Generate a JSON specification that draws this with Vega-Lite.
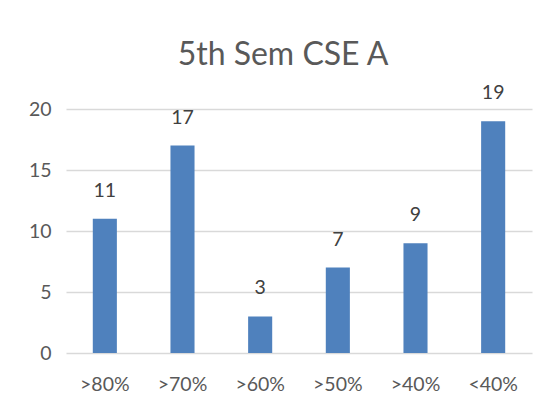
{
  "$schema": "https://vega.github.io/schema/vega-lite/v6.json",
  "width": 466,
  "height": 244,
  "autosize": "none",
  "padding": {"left": 66, "top": 109, "right": 19, "bottom": 63},
  "background": "white",
  "title": {
    "text": "5th Sem CSE A",
    "font": "Lato",
    "fontSize": 32,
    "fontWeight": "normal",
    "color": "#595959",
    "anchor": "middle",
    "dx": -16,
    "offset": 11
  },
  "config": {
    "view": {"stroke": null},
    "font": "Lato"
  },
  "data": {
    "values": [
      {"range": ">80%", "count": 11},
      {"range": ">70%", "count": 17},
      {"range": ">60%", "count": 3},
      {"range": ">50%", "count": 7},
      {"range": ">40%", "count": 9},
      {"range": "<40%", "count": 19}
    ]
  },
  "encoding": {
    "x": {
      "field": "range",
      "type": "nominal",
      "sort": null,
      "scale": {"paddingInner": 0.69, "paddingOuter": 0.345},
      "axis": {
        "title": null,
        "labelAngle": 0,
        "ticks": false,
        "domain": false,
        "labelPadding": 22,
        "labelFont": "Lato",
        "labelFontSize": 19.5,
        "labelColor": "#595959"
      }
    },
    "y": {
      "field": "count",
      "type": "quantitative",
      "scale": {"domain": [0, 20]},
      "axis": {
        "title": null,
        "values": [0, 5, 10, 15, 20],
        "ticks": false,
        "domain": false,
        "labelPadding": 15,
        "labelFont": "Lato",
        "labelFontSize": 19.5,
        "labelColor": "#595959",
        "gridColor": "#d9d9d9",
        "gridWidth": 1.5
      }
    }
  },
  "layer": [
    {"mark": {"type": "bar", "color": "#4f81bd"}},
    {
      "mark": {"type": "text", "baseline": "middle", "dy": -28, "font": "Lato", "fontSize": 19.5, "color": "#404040"},
      "encoding": {"text": {"field": "count", "type": "quantitative"}}
    }
  ]
}
